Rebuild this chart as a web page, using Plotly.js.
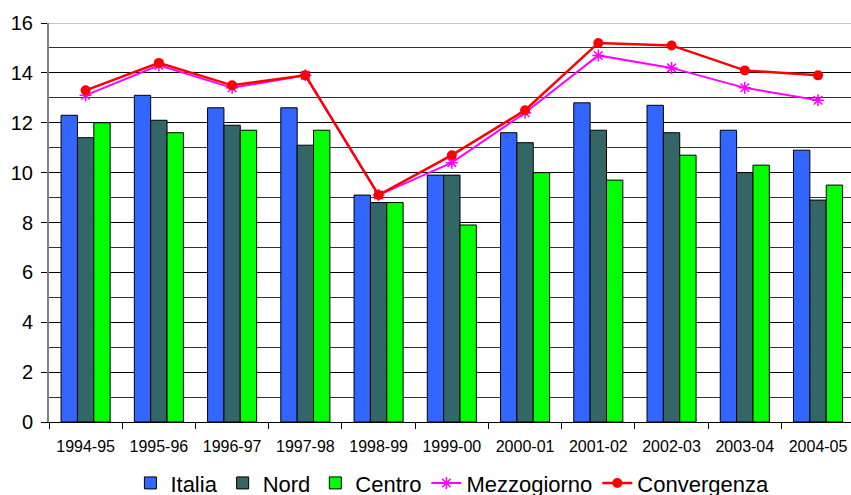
<!DOCTYPE html>
<html><head><meta charset="utf-8">
<script src="https://cdn.plot.ly/plotly-3.0.1.min.js"></script>
<style>html,body{margin:0;padding:0;background:#fff}#c{width:851px;height:495px}</style>
</head><body><div id="c"></div>
<script>
const categories = ["1994-95","1995-96","1996-97","1997-98","1998-99","1999-00","2000-01","2001-02","2002-03","2003-04","2004-05"];
const italia      = [12.3,13.1,12.6,12.6,9.1,9.9,11.6,12.8,12.7,11.7,10.9];
const nord        = [11.4,12.1,11.9,11.1,8.8,9.9,11.2,11.7,11.6,10.0,8.9];
const centro      = [12.0,11.6,11.7,11.7,8.8,7.9,10.0,9.7,10.7,10.3,9.5];
const mezzogiorno = [13.1,14.3,13.4,13.9,9.1,10.4,12.4,14.7,14.2,13.4,12.9];
const convergenza = [13.3,14.4,13.5,13.9,9.1,10.7,12.5,15.2,15.1,14.1,13.9];
const yTicks = [0,2,4,6,8,10,12,14,16];

const barLine = {color:'#000', width:1};
const data = [
  {type:'bar', name:'Italia', x:categories, y:italia, marker:{color:'#3366FF', line:barLine}},
  {type:'bar', name:'Nord', x:categories, y:nord, marker:{color:'#336666', line:barLine}},
  {type:'bar', name:'Centro', x:categories, y:centro, marker:{color:'#00FF00', line:barLine}},
  {type:'scatter', mode:'lines+markers', name:'Mezzogiorno', x:categories, y:mezzogiorno,
   line:{color:'#FF00FF', width:2}, marker:{symbol:'asterisk-open', size:10, color:'#FF00FF', line:{color:'#FF00FF', width:1.5}}},
  {type:'scatter', mode:'lines+markers', name:'Convergenza', x:categories, y:convergenza,
   line:{color:'#FF0000', width:2.5}, marker:{symbol:'circle', size:10, color:'#FF0000'}}
];
const layout = {
  width:851, height:495,
  margin:{l:49, r:0, t:23, b:73},
  paper_bgcolor:'#fff', plot_bgcolor:'#fff',
  barmode:'group', bargap:0.33, bargroupgap:0,
  font:{family:'Liberation Sans, Arial, sans-serif', color:'#000'},
  showlegend:true,
  legend:{orientation:'h', x:0.503, xanchor:'center', yref:'container', y:0.024, yanchor:'middle',
          font:{size:22, color:'#000'}, itemwidth:30, tracegroupgap:0},
  xaxis:{type:'category', range:[-0.5,10.45], showgrid:false, zeroline:false,
         showline:true, linecolor:'#000', linewidth:1,
         ticks:'outside', tickson:'boundaries', ticklen:6, tickcolor:'#000',
         tickfont:{size:16}, ticklabelstandoff:10, fixedrange:true},
  yaxis:{range:[0,16], tickvals:yTicks, ticktext:yTicks.map(String),
         showgrid:true, gridcolor:'#000', gridwidth:1,
         minor:{dtick:1, showgrid:true, gridcolor:'#333', gridwidth:1},
         zeroline:false, showline:true, linecolor:'#808080', linewidth:2,
         ticks:'outside', ticklen:6, tickcolor:'#000', tickfont:{size:20}, ticklabelstandoff:4, fixedrange:true},
  shapes:[{type:'line', xref:'paper', yref:'y', x0:0, x1:1, y0:16, y1:16,
           line:{color:'#c8c8c8', width:2}, layer:'between'}]
};
Plotly.newPlot('c', data, layout, {displayModeBar:false, staticPlot:true});
</script>
</body></html>
